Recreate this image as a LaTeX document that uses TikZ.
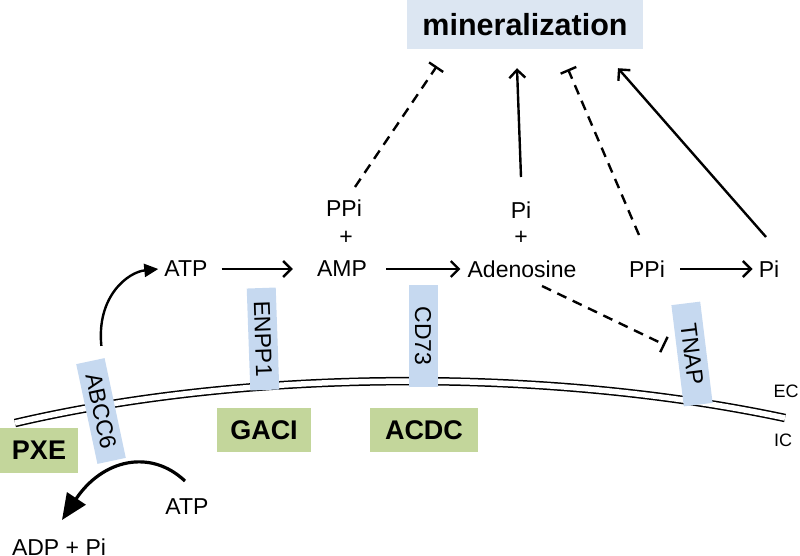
\documentclass[tikz,border=0pt]{standalone}
\usepackage{fontspec}
\setmainfont{Liberation Sans}
\usetikzlibrary{arrows.meta}
\usetikzlibrary{positioning}

\definecolor{mineralblue}{RGB}{220,230,242}
\definecolor{protblue}{RGB}{198,217,240}
\definecolor{diseasegreen}{RGB}{195,214,155}

\begin{document}
\begin{tikzpicture}[
  x=1pt, y=-1pt,
  every node/.style={font=\fontsize{23}{27}\selectfont, inner sep=0pt},
  protein/.style={fill=protblue, minimum width=102pt, minimum height=29pt},
  disease/.style={
    fill=diseasegreen,
    font=\bfseries\fontsize{27}{30}\selectfont,
    minimum height=44pt
  },
  side/.style={font=\fontsize{18}{20}\selectfont},
  react/.style={-{Straight Barb[length=8pt,width=16pt,line width=2.4pt]}, line width=2.4pt},
  inhibit/.style={-{Bar[width=17pt,line width=2.4pt]}, line width=2.4pt, dash pattern=on 10pt off 7pt},
  transport/.style={-{Triangle[length=14pt,width=13pt]}, line width=2.4pt}
]
\useasboundingbox (0,0) rectangle (800,555);

% Membrane
\draw[line width=1.5pt, double=white, double distance=5.5pt]
  (15,423) .. controls (250,368) and (550,368) .. (785,418);

% Nodes
\node[fill=mineralblue, minimum width=236pt, minimum height=49pt,
  font=\bfseries\fontsize{30.5}{34}\selectfont] (mineral) at (525,24.5) {mineralization};

\node (atpEC) at (186,269) {ATP};
\node (ppiL) at (344,208) {PPi};
\node (plusL) at (346,238) {+};
\node (amp) at (342,269) {AMP};
\node (piT) at (521,210) {Pi};
\node (plusT) at (521,238) {+};
\node (ado) at (522,269) {Adenosine};
\node (ppiR) at (647,269) {PPi};
\node (piR) at (769,269) {Pi};

\node (atpIC) at (187,507) {ATP};
\node (adp) at (59,547) {ADP + Pi};

\node[protein, rotate=-78] (abcc) at (101,411) {ABCC6};
\node[protein, rotate=-88] (enpp) at (263,339) {ENPP1};
\node[protein, rotate=-90] (cd) at (423,336) {CD73};
\node[protein, rotate=-83] (tnap) at (692,354) {TNAP};

\node[disease, minimum width=78pt, minimum height=45pt] (pxe) at (39,450.5) {PXE};
\node[disease, minimum width=94pt] (gaci) at (264,430) {GACI};
\node[disease, minimum width=108pt] (acdc) at (424,430) {ACDC};

\node[side] (ec) at (786,391) {EC};
\node[side] (ic) at (783,440) {IC};

% Arrows
\draw[react] ([shift={(14,0)}]atpEC.east) -- ([shift={(-24,0)}]amp.west);
\draw[react] ([shift={(19,0)}]amp.east) -- ([shift={(-7,0)}]ado.west);
\draw[react] ([shift={(15,0)}]ppiR.east) -- ([shift={(-6,0)}]piR.west);
\draw[react] ([shift={(0,-33)}]piT.center) -- ([shift={(-8,19)}]mineral.south);
\draw[react] ([shift={(-3,-32)}]piR.center) -- ([shift={(93,19)}]mineral.south);

\draw[inhibit] ([shift={(11,-21)}]ppiL.center) -- ([shift={(30,17)}]mineral.south west);
\draw[inhibit] ([shift={(-8,-34)}]ppiR.center) -- ([shift={(43,20)}]mineral.south);
\draw[inhibit] ([shift={(20,17)}]ado.center) -- ([shift={(-27,-9)}]tnap.center);

\draw[transport] ([shift={(11,-15)}]abcc.west)
  .. controls +(-5,-50) and +(-30,3) .. ([shift={(-6,0)}]atpEC.west);
\draw[line width=3.2pt, -{Triangle[length=26pt,width=22pt]}] ([shift={(-2,-26)}]atpIC.center)
  .. controls +(-35,-33) and +(40,-60) .. ([shift={(3,-27)}]adp.center);
\end{tikzpicture}
\end{document}
